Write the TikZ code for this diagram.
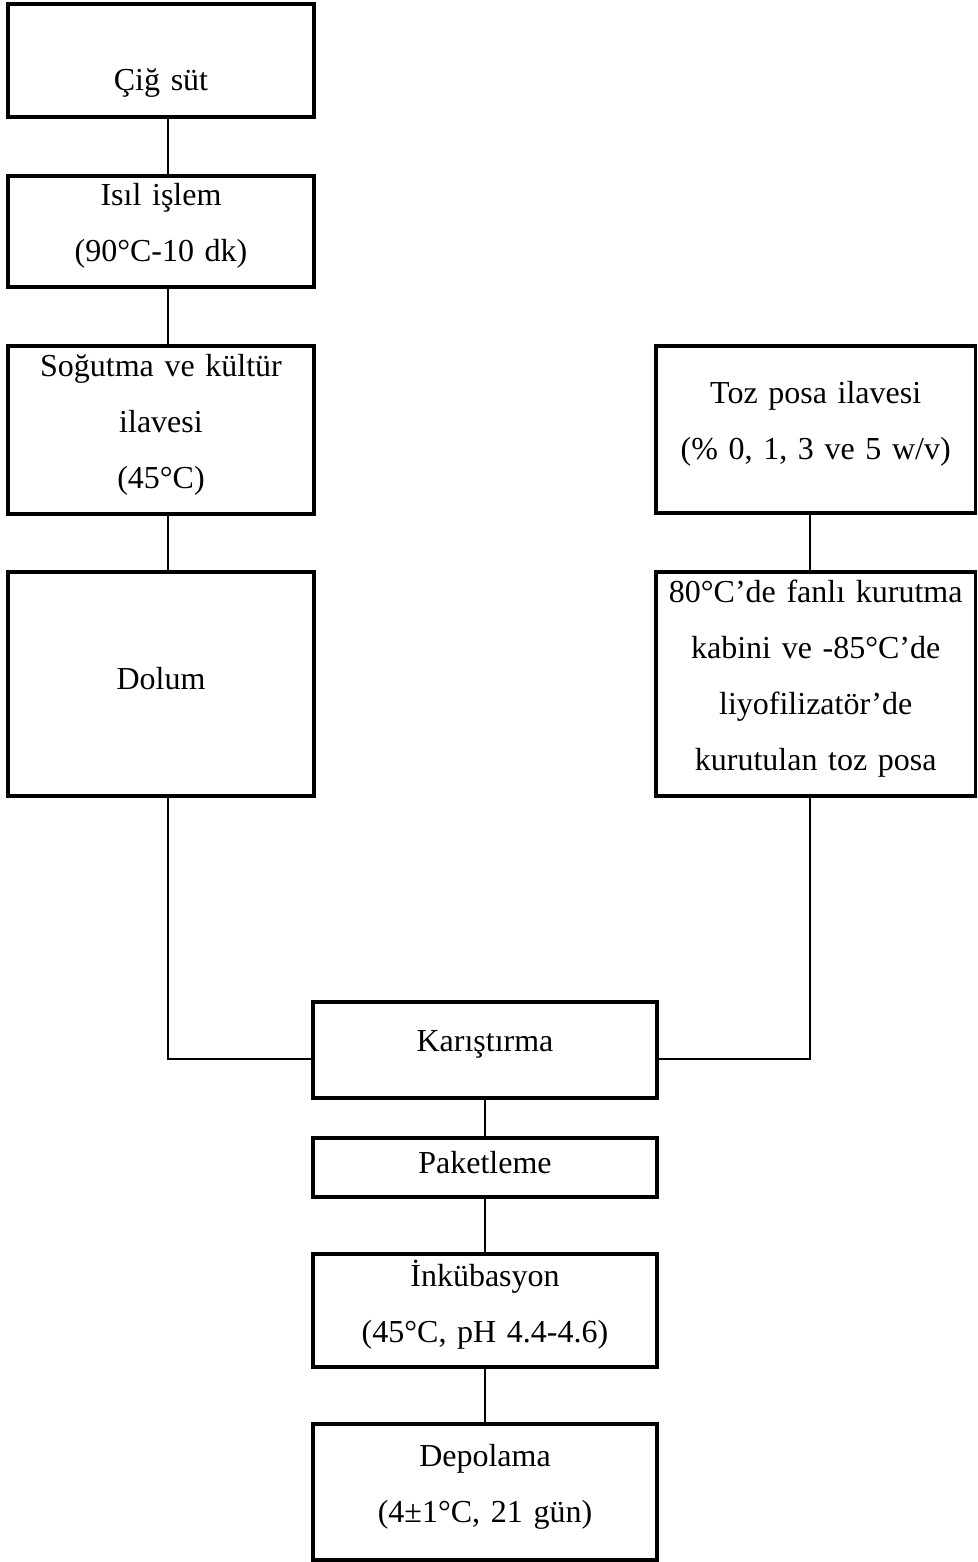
\documentclass[tikz,border=0pt]{standalone}
\usepackage{fontspec}
\setmainfont{Liberation Serif}
\usetikzlibrary{calc}

\tikzset{
	stepbox/.style={draw, line width=1.2pt, align=center, inner xsep=2pt, inner ysep=0pt,
		font=\fontsize{12pt}{21pt}\selectfont, execute at end node={\par\kern4pt}},
	leftbox/.style={stepbox, minimum width=114.75pt, text width=110pt},
	rightbox/.style={stepbox, minimum width=119.8pt, text width=115pt},
	midbox/.style={stepbox, minimum width=129pt, text width=124pt},
	link/.style={line width=1.1pt},
}

\begin{document}
\begin{tikzpicture}[x=0.375pt, y=-0.375pt]
		
		\useasboundingbox (0,0) rectangle (977,1562);
		
		% left column
		\node at (161,60.5) [leftbox, minimum height=42.4pt] (cig) {\raisebox{-10.5pt}[\height][\depth]{Çiğ süt}};
		\node at (161,231.5) [leftbox, minimum height=41.6pt] (isil) {Isıl işlem\\(90°C-10 dk)};
		\node at (161,430) [leftbox, minimum height=63pt] (sogut) {Soğutma ve kültür\\ilavesi\\(45°C)};
		\node at (161,684) [leftbox, minimum height=84pt] (dolum) {Dolum};
		
		% right column
		\node at (815.7,429.5) [rightbox, minimum height=62.6pt] (toz) {Toz posa ilavesi\\(\% 0, 1, 3 ve 5 w/v)};
		\node at (815.7,684) [rightbox, minimum height=84pt] (kurut) {80°C’de fanlı kurutma\\kabini ve -85°C’de\\liyofilizatör’de\\kurutulan toz posa};
		
		% middle column
		\node at (485,1050) [midbox, minimum height=36pt] (karis) {Karıştırma};
		\node at (485,1167.5) [midbox, minimum height=22.1pt] (paket) {Paketleme};
		\node at (485,1310.5) [midbox, minimum height=42.4pt] (inkub) {İnkübasyon\\(45°C, pH 4.4-4.6)};
		\node at (485,1492) [midbox, minimum height=51pt] (depo) {Depolama\\(4±1°C, 21 gün)};
		
		% helper coordinates for the connector lines
		\coordinate (lline) at (168,0);
		\coordinate (rline) at (810,0);
		\coordinate (mixline) at (0,1059);
		
		\draw [link] (cig.south -| lline) -- (isil.north -| lline);
		\draw [link] (isil.south -| lline) -- (sogut.north -| lline);
		\draw [link] (sogut.south -| lline) -- (dolum.north -| lline);
		\draw [link] (dolum.south -| lline) |- (karis.west |- mixline);
		
		\draw [link] (toz.south -| rline) -- (kurut.north -| rline);
		\draw [link] (kurut.south -| rline) |- (karis.east |- mixline);
		
		\draw [link] (karis.south) -- (paket.north);
		\draw [link] (paket.south) -- (inkub.north);
		\draw [link] (inkub.south) -- (depo.north);
		
\end{tikzpicture}
\end{document}
